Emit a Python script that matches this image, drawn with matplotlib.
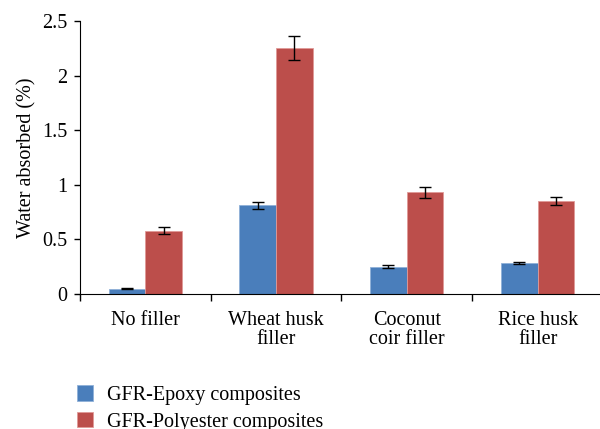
import matplotlib
matplotlib.use("Agg")
from matplotlib import pyplot as plt
import numpy as np

categories = ["No filler", "Wheat husk\nfiller", "Coconut\ncoir filler", "Rice husk\nfiller"]
epoxy = [0.045, 0.81, 0.25, 0.28]
epoxy_err = [0.005, 0.03, 0.01, 0.01]
polyester = [0.58, 2.25, 0.93, 0.85]
polyester_err = [0.03, 0.11, 0.05, 0.04]

plt.rcParams["font.family"] = ["Liberation Serif", "DejaVu Serif"]
fs = 14.5

fig = plt.figure(figsize=(6, 4.29), dpi=100)
ax = fig.add_axes([0.133, 0.315, 0.872, 0.636])

x = np.arange(len(categories))
w = 0.28
ax.bar(x - w / 2, epoxy, w, yerr=epoxy_err, color="#4a7ebb", edgecolor="#8fb0d8", linewidth=0.6,
       capsize=4.5, error_kw=dict(elinewidth=1, capthick=1, ecolor="black"), label="GFR-Epoxy composites")
ax.bar(x + w / 2, polyester, w, yerr=polyester_err, color="#bc4e4b", edgecolor="#e09a98", linewidth=0.6,
       capsize=4.5, error_kw=dict(elinewidth=1, capthick=1, ecolor="black"), label="GFR-Polyester composites")

ax.set_xlim(-0.5, len(categories) - 0.5)
ax.set_ylim(0, 2.5)
ax.set_yticks([0, 0.5, 1, 1.5, 2, 2.5])
ax.set_yticklabels(["0", "0.5", "1", "1.5", "2", "2.5"])
ax.set_xticks(x)
ax.set_xticklabels(categories, linespacing=1.05)
ax.set_xticks(np.arange(-0.5, len(categories)), minor=True)
ax.tick_params(axis="x", which="major", length=0, pad=12, labelsize=fs)
ax.tick_params(axis="x", which="minor", length=5, width=1)
ax.tick_params(axis="y", length=4, width=1, labelsize=fs, pad=5)
ax.set_ylabel("Water absorbed (%)", fontsize=fs, labelpad=4)

for s in ["top", "right"]:
    ax.spines[s].set_visible(False)

ax.legend(loc="upper left", bbox_to_anchor=(-0.005, -0.335), frameon=False, fontsize=fs,
          handlelength=0.8, handleheight=0.8, handletextpad=0.7, labelspacing=0.35, borderaxespad=0,
          borderpad=0)

fig.savefig("out.png", dpi=100)
